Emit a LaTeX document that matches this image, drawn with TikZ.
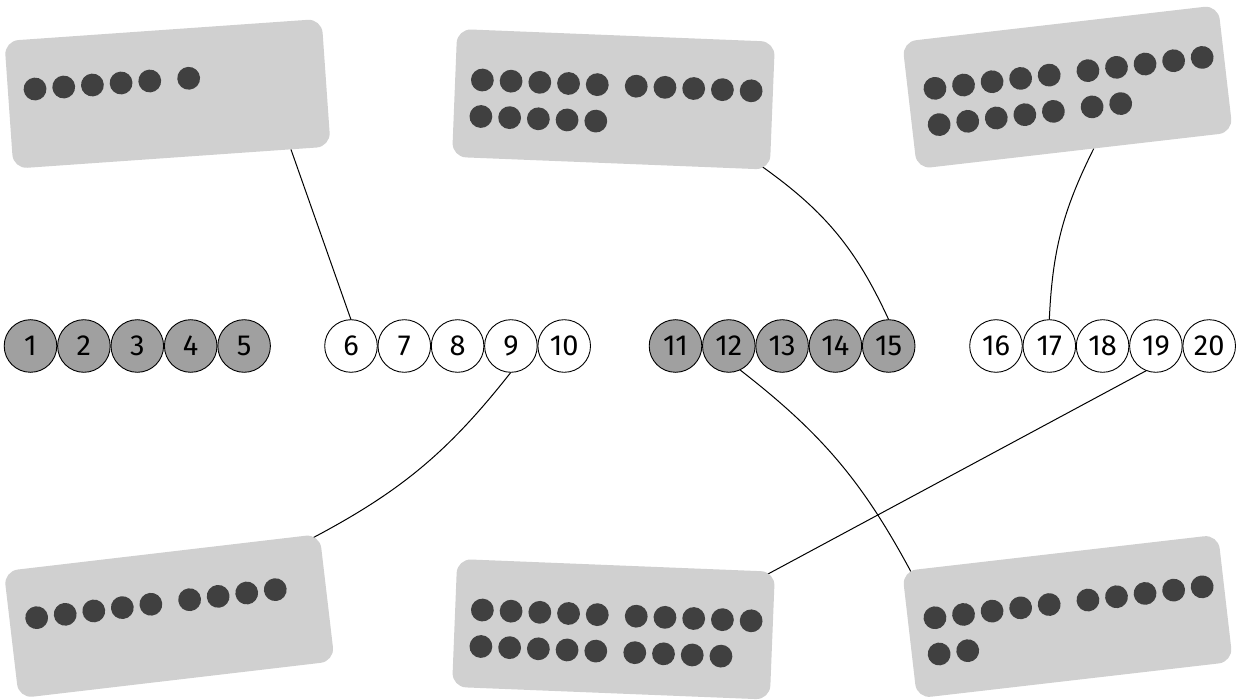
\documentclass[tikz,border=0pt]{standalone}
\usepackage{fontspec}
\setmainfont{Fira Sans}
\usetikzlibrary{calc}
\pgfdeclarelayer{background}
\pgfsetlayers{background,main}
\definecolor{cardgray}{HTML}{D0D0D0}
\definecolor{dotgray}{HTML}{404040}
\definecolor{numgray}{HTML}{A0A0A0}
\tikzset{
  card/.style={fill=cardgray, rounded corners=14pt, minimum width=318pt, minimum height=128pt, inner sep=0pt, outer sep=0pt},
  numbase/.style={circle, draw=black, line width=0.9pt, minimum size=52.6pt, inner sep=0pt, outer sep=0pt, font=\fontsize{29}{34}\selectfont},
  numdark/.style={numbase, fill=numgray},
  numlight/.style={numbase, fill=white},
  link/.style={draw=black, line width=1pt},
}
\newcommand\dotsat[2]{\foreach \k in {#2} \fill[dotgray] ({-131.8+28.75*\k+(\k>4)*10.25},#1) circle (11.4pt);}
\begin{document}
\begin{tikzpicture}[x=1pt,y=-1pt]
\useasboundingbox (0,0) rectangle (1248,700);
% number circles
\foreach \i/\x in {1/30.5,2/83.9,3/137.3,4/190.7,5/244.1,11/675.5,12/728.8,13/782.1,14/835.4,15/888.7}
  \node[numdark] (n\i) at (\x,346) {\i};
\foreach \i/\x in {6/351,7/404.3,8/457.6,9/510.9,10/564.2,16/996,17/1049.3,18/1102.6,19/1155.9,20/1209.2}
  \node[numlight] (n\i) at (\x,346) {\i};
% cards
\node[card, rotate=4] (c1) at (167.5,93.8) {};
\node[card, rotate=-2.3] (c2) at (613.5,99.3) {};
\node[card, rotate=6.6] (c3) at (1067.5,87.1) {};
\node[card, rotate=6.7] (c4) at (169.2,616.2) {};
\node[card, rotate=-2.3] (c5) at (613.5,629.3) {};
\node[card, rotate=6.6] (c6) at (1067.5,616.5) {};
% dots
\begin{scope}[shift={(c1.center)}, rotate=4]
  \dotsat{-14}{0,1,2,3,4,5}
\end{scope}
\begin{scope}[shift={(c2.center)}, rotate=-2.3]
  \dotsat{-14}{0,1,2,3,4,5,6,7,8,9}
  \dotsat{22.5}{0,1,2,3,4}
\end{scope}
\begin{scope}[shift={(c3.center)}, rotate=6.6]
  \dotsat{-14}{0,1,2,3,4,5,6,7,8,9}
  \dotsat{22.5}{0,1,2,3,4,5,6}
\end{scope}
\begin{scope}[shift={(c4.center)}, rotate=6.7]
  \dotsat{-14}{0,1,2,3,4,5,6,7,8}
\end{scope}
\begin{scope}[shift={(c5.center)}, rotate=-2.3]
  \dotsat{-14}{0,1,2,3,4,5,6,7,8,9}
  \dotsat{22.5}{0,1,2,3,4,5,6,7,8}
\end{scope}
\begin{scope}[shift={(c6.center)}, rotate=6.6]
  \dotsat{-14}{0,1,2,3,4,5,6,7,8,9}
  \dotsat{22.5}{0,1}
\end{scope}
% connectors
\begin{pgfonlayer}{background}
\draw[link] ($(c1.south)!0.75!(c1.south east)$) -- (n6.north);
\draw[link] ($(c2.south east)!0.06!(c2.center)$) to[bend left=15] (n15.north);
\draw[link] ($(c3.south)!0.12!(c3.south east)$) to[bend right=12] (n17.north);
\draw[link] (n9.south) to[bend left=12] ($(c4.north east)!0.06!(c4.center)$);
\draw[link] (n12.295) to[bend left=12] ($(c6.north west)!0.06!(c6.center)$);
\draw[link] (n19.249) -- ($(c5.north east)!0.05!(c5.center)$);
\end{pgfonlayer}
\end{tikzpicture}
\end{document}
